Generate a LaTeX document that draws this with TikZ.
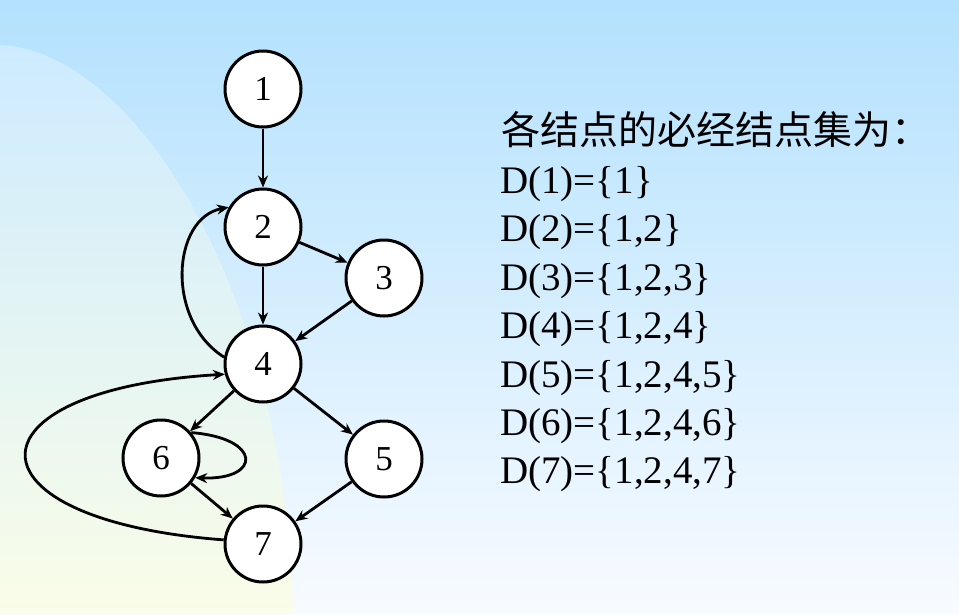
\documentclass[tikz,border=0pt]{standalone}
\usepackage{fontspec}
\setmainfont{Liberation Serif}
\newfontfamily\cjk{Noto Sans CJK SC}
\usetikzlibrary{arrows.meta}
\definecolor{bgtop}{RGB}{179,225,254}
\definecolor{bgbot}{RGB}{248,251,255}
\definecolor{shtop}{RGB}{205,235,255}
\definecolor{shbot}{RGB}{250,253,232}
\tikzset{
  vtx/.style={circle, draw=black, line width=3pt, fill=white, minimum size=76pt, inner sep=0pt,
    font=\fontsize{35}{40}\selectfont},
  edge/.style={line width=2.8pt, -{Stealth[length=12pt,width=10pt]}},
  txt/.style={anchor=base west, inner sep=0pt, font=\fontsize{39}{44}\selectfont},
}
\begin{document}
\begin{tikzpicture}[x=1pt,y=-1pt]
\useasboundingbox (0,0) rectangle (959,614);
\shade[top color=bgtop, bottom color=bgbot] (0,0) rectangle (959,614);
\shade[top color=shtop, bottom color=shbot] (0,45) .. controls (130,50) and (285,280) .. (293,614) -- (0,614) -- cycle;

\node[vtx] (n1) at (263,89) {1};
\node[vtx] (n2) at (263,227) {2};
\node[vtx] (n3) at (384,278) {3};
\node[vtx] (n4) at (263,364) {4};
\node[vtx] (n5) at (384,459) {5};
\node[vtx] (n6) at (161,458) {6};
\node[vtx] (n7) at (263,544) {7};

\draw[edge] (n1) -- (n2);
\draw[edge] (n2) -- (n3);
\draw[edge] (n2) -- (n4);
\draw[edge] (n3) -- (n4);
\draw[edge] (n4) -- (n6);
\draw[edge] (n4) -- (n5);
\draw[edge] (n6) -- (n7);
\draw[edge] (n5) -- (n7);
\draw[edge] (n4.170) .. controls (165,320) and (172,218) .. (n2.150);
\draw[edge] (n7.174) .. controls (-40,520) and (-40,390) .. (n4.195);
\draw[edge] (n6.40) .. controls (262,438) and (262,480) .. (n6.-30);

\node[txt] (t0) at (501,144) {\cjk 各结点的必经结点集为：};
\node[txt] (t1) at (500,193) {D(1)=\{1\}};
\node[txt] (t2) at (500,241) {D(2)=\{1,2\}};
\node[txt] (t3) at (500,290) {D(3)=\{1,2,3\}};
\node[txt] (t4) at (500,338) {D(4)=\{1,2,4\}};
\node[txt] (t5) at (500,387) {D(5)=\{1,2,4,5\}};
\node[txt] (t6) at (500,435) {D(6)=\{1,2,4,6\}};
\node[txt] (t7) at (500,483) {D(7)=\{1,2,4,7\}};
\end{tikzpicture}
\end{document}
